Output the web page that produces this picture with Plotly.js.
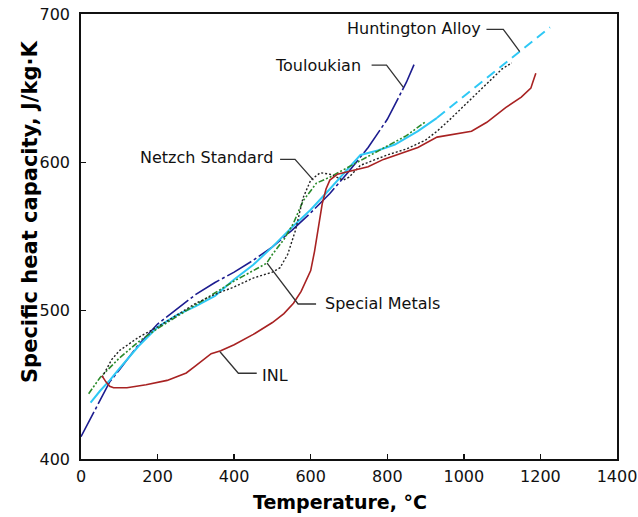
<!DOCTYPE html>
<html>
<head>
<meta charset="utf-8">
<script src="https://cdn.plot.ly/plotly-3.0.1.min.js"></script>
<style>html,body{margin:0;padding:0;background:#fff;}#chart{width:638px;height:517px;}</style>
</head>
<body>
<div id="chart"></div>
<script>
// Touloukian
const touT  = [0,25,50,75,100,150,200,250,300,350,400,450,500,550,600,650,700,750,800,850,870];
const touCp = [415,427,439,452,460,477,491,501,511,519,526,534,543,554,566,579,594,610,629,654,666];
// Huntington Alloy (measured)
const hunT  = [25,50,75,100,150,200,250,300,350,400,450,500,550,600,650,700,730,775,820,880,930];
const hunCp = [438,446,453,461,476,489,497,503,510,521,531,543,556,568,582,596,605,608,612,621,630];
// Huntington Alloy (extrapolated)
const hunExtT  = [930,1225];
const hunExtCp = [630,691];
// Special Metals
const smT  = [20,50,100,150,200,250,300,350,400,450,485,500,530,555,580,615,650,700,750,800,850,898];
const smCp = [444,455,468,479,488,496,504,512,520,527,532,538,548,559,574,586,590,597,604,611,618,627];
// Netzch Standard
const nzT  = [55,80,100,150,200,250,300,350,400,450,500,520,540,560,580,600,625,650,685,700,730,800,850,900,930,960,1000,1050,1100,1125];
const nzCp = [455,467,473,482,489,497,505,511,516,522,526,529,538,554,576,588,593,592,588,590,598,605,609,615,621,628,638,651,663,667];
// INL
const inlT  = [55,65,75,85,120,170,225,275,300,340,365,400,450,500,530,555,575,590,600,610,620,630,640,650,670,700,750,790,850,880,930,980,1020,1060,1110,1150,1175,1180,1188];
const inlCp = [456,452,449,448,448,450,453,458,463,471,473,477,484,492,498,505,513,521,527,540,556,572,582,588,592,594,597,602,607,610,617,619,621,627,637,644,650,654,660];

const labels = ['Huntington Alloy','Touloukian','Netzch Standard','Special Metals','INL'];
const xTicks = [0,200,400,600,800,1000,1200,1400];
const yTicks = [400,500,600,700];

const FONT = 'DejaVu Sans, sans-serif';

const traces = [
  {x: touT, y: touCp, mode:'lines', line:{color:'#1c1c8f', width:1.6, dash:'28px,3px,3px,3px'}},
  {x: hunT, y: hunCp, mode:'lines', line:{color:'#2ec8f5', width:2}},
  {x: hunExtT, y: hunExtCp, mode:'lines', line:{color:'#2ec8f5', width:2, dash:'10px,6px'}},
  {x: smT, y: smCp, mode:'lines', line:{color:'#2a8a2a', width:1.6, dash:'6px,2px,2px,2px,2px,2px'}},
  {x: nzT, y: nzCp, mode:'lines', line:{color:'#222', width:1.4, dash:'2px,2px'}},
  {x: inlT, y: inlCp, mode:'lines', line:{color:'#a82222', width:1.6}}
];

function leader(pts){
  return {type:'path', xref:'x', yref:'y', line:{color:'#333', width:1.3},
    path: 'M' + pts.map(p => p[0] + ',' + p[1]).join(' L')};
}

const layout = {
  width:638, height:517,
  margin:{l:81, r:21, t:14, b:58},
  paper_bgcolor:'#fff', plot_bgcolor:'#fff',
  showlegend:false,
  font:{family:FONT, size:16, color:'#111'},
  xaxis:{range:[0,1400], tickvals:xTicks, ticks:'inside', ticklen:5, tickwidth:1.3, tickcolor:'#111',
    showline:true, linecolor:'#111', linewidth:1.8, mirror:true, showgrid:false, zeroline:false,
    tickfont:{family:FONT, size:16, color:'#111'}, ticklabelstandoff:2},
  yaxis:{range:[400,700], tickvals:yTicks, ticks:'inside', ticklen:5, tickwidth:1.3, tickcolor:'#111',
    showline:true, linecolor:'#111', linewidth:1.8, mirror:true, showgrid:false, zeroline:false,
    tickfont:{family:FONT, size:16, color:'#111'}, ticklabelstandoff:6},
  annotations:[
    {x:1050, y:690, xref:'x', yref:'y', text:labels[0], showarrow:false, xanchor:'right', yanchor:'middle', font:{family:FONT,size:16,color:'#111'}},
    {x:737, y:665, xref:'x', yref:'y', text:labels[1], showarrow:false, xanchor:'right', yanchor:'middle', font:{family:FONT,size:16,color:'#111'}},
    {x:507, y:603.5, xref:'x', yref:'y', text:labels[2], showarrow:false, xanchor:'right', yanchor:'middle', font:{family:FONT,size:16,color:'#111'}},
    {x:632, y:505, xref:'x', yref:'y', text:labels[3], showarrow:false, xanchor:'left', yanchor:'middle', font:{family:FONT,size:16,color:'#111'}},
    {x:467, y:456.5, xref:'x', yref:'y', text:labels[4], showarrow:false, xanchor:'left', yanchor:'middle', font:{family:FONT,size:16,color:'#111'}},
    {x:(30-81)/536, y:(459-212)/445, xref:'paper', yref:'paper', text:'<b>Specific heat capacity, J/kg·K</b>', textangle:-90, showarrow:false,
      xanchor:'center', yanchor:'middle', font:{family:FONT, size:21, color:'#000'}},
    {x:(340-81)/536, y:(459-502)/445, xref:'paper', yref:'paper', text:'<b>Temperature, °C</b>', showarrow:false,
      xanchor:'center', yanchor:'middle', font:{family:FONT, size:19, color:'#000'}}
  ],
  shapes:[
    leader([[1059,689.7],[1103,689.7],[1146,674.6]]),
    leader([[759,665.6],[798,665.6],[842,650.6]]),
    leader([[520,602],[559,602],[607,588]]),
    leader([[614,504.5],[567,504.5],[486,532]]),
    leader([[459,457.8],[411,457.8],[363,472.3]])
  ]
};

Plotly.newPlot('chart', traces, layout, {displayModeBar:false, staticPlot:true});
</script>
</body>
</html>
